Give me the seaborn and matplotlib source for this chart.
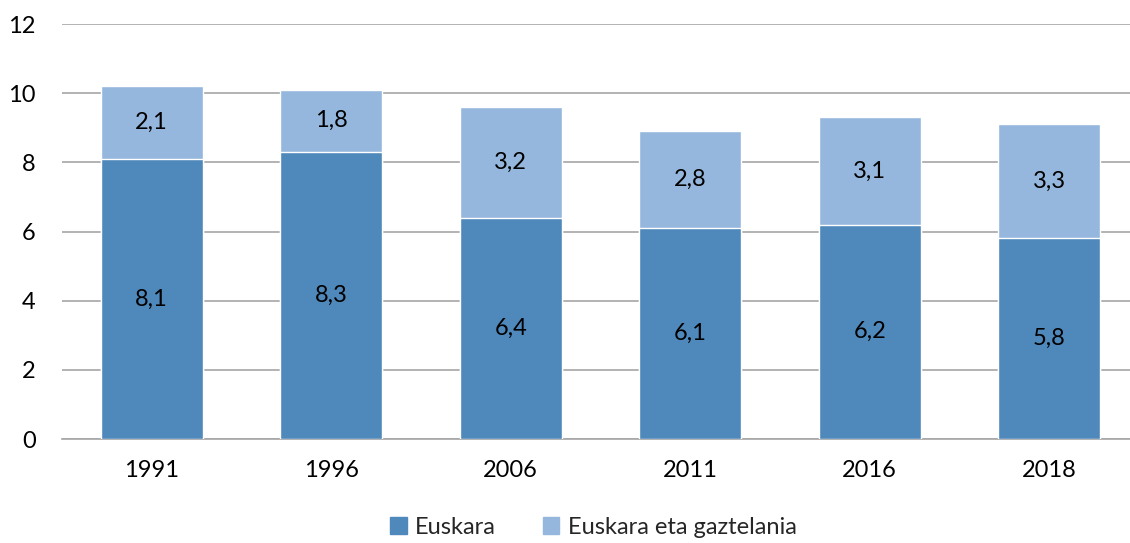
import matplotlib
matplotlib.use('Agg')
import matplotlib.pyplot as plt
import seaborn as sns
import pandas as pd
from matplotlib.patches import Patch

# datuak
urteak = ['1991', '1996', '2006', '2011', '2016', '2018']
euskara = [8.1, 8.3, 6.4, 6.1, 6.2, 5.8]
biak = [2.1, 1.8, 3.2, 2.8, 3.1, 3.3]

kolore_ilun = '#4F88BB'
kolore_argi = '#95B7DD'

sns.set_theme(style='white')
plt.rcParams['font.family'] = ['Lato', 'DejaVu Sans']

df = pd.DataFrame({'urtea': urteak, 'euskara': euskara, 'biak': biak})
df['guztira'] = df['euskara'] + df['biak']

fig = plt.figure(figsize=(11.3, 5.43), dpi=100)
ax = fig.add_axes([62 / 1130, 1 - 439 / 543, 1 - 62 / 1130, 415 / 543])

# goiko zatia (guztira) lehenik, gero euskara gainean
sns.barplot(data=df, x='urtea', y='guztira', color=kolore_argi, width=0.57,
            saturation=1, ax=ax, zorder=2)
sns.barplot(data=df, x='urtea', y='euskara', color=kolore_ilun, width=0.57,
            saturation=1, ax=ax, zorder=3)

bars_behe = ax.containers[1]
for i, bb in enumerate(bars_behe):
    x = bb.get_x() + bb.get_width() / 2
    ax.text(x, euskara[i] / 2, f'{euskara[i]:.1f}'.replace('.', ','),
            ha='center', va='center', fontsize=17, color='black', zorder=5)
    ax.text(x, euskara[i] + biak[i] / 2, f'{biak[i]:.1f}'.replace('.', ','),
            ha='center', va='center', fontsize=17, color='black', zorder=5)

ax.set_ylim(0, 12)
ax.set_yticks([0, 2, 4, 6, 8, 10, 12])
ax.set_xlim(-0.5, 5.45)
ax.yaxis.grid(True, color='#A6A6A6', linewidth=1.2, zorder=0)
ax.set_axisbelow(True)
for s in ['top', 'right', 'left']:
    ax.spines[s].set_visible(False)
ax.spines['bottom'].set_color('#A6A6A6')
ax.spines['bottom'].set_linewidth(1.2)
ax.set_xlabel('')
ax.set_ylabel('')
ax.tick_params(axis='y', labelsize=17, pad=19, length=0, colors='black')
ax.tick_params(axis='x', labelsize=17, pad=15, length=0, colors='black')

handles = [Patch(color=kolore_ilun, label='Euskara'),
           Patch(color=kolore_argi, label='Euskara eta gaztelania')]
fig.legend(handles=handles, loc='center', bbox_to_anchor=(0.525, 1 - 527 / 543),
           ncol=2, frameon=False, fontsize=17, handlelength=0.7, handleheight=0.7,
           handletextpad=0.35, columnspacing=2.0)

fig.savefig('out.png', dpi=100)
